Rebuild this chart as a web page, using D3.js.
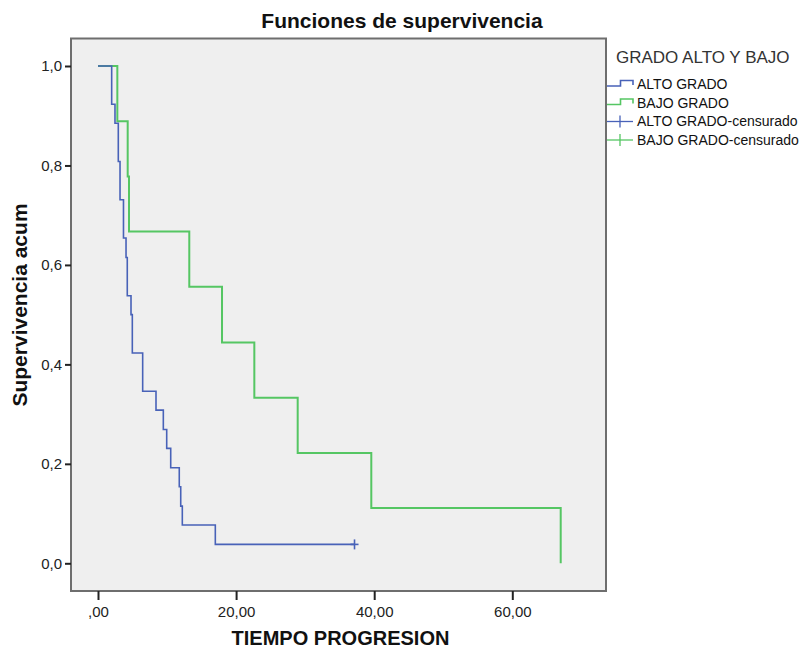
<!DOCTYPE html>
<html>
<head>
<meta charset="utf-8">
<script src="https://cdn.jsdelivr.net/npm/d3@7"></script>
<style>
  html, body { margin: 0; padding: 0; background: #ffffff; }
  svg { display: block; font-family: "Liberation Sans", Arial, sans-serif; }
</style>
</head>
<body>
<svg id="chart" width="804" height="651"></svg>
<script>
// ---- Data ----
const seriesNames = ["ALTO GRADO", "BAJO GRADO"];
const censoredNames = ["ALTO GRADO-censurado", "BAJO GRADO-censurado"];

const altoTimes    = [0, 1.98, 2.46, 2.94, 3.19, 3.69, 4.06, 4.24, 4.78, 4.97, 6.47, 8.40, 9.46, 9.95, 10.53, 11.77, 11.98, 12.21, 16.99];
const altoSurvival = [1, 0.923, 0.885, 0.808, 0.731, 0.654, 0.615, 0.538, 0.500, 0.423, 0.346, 0.308, 0.269, 0.231, 0.192, 0.154, 0.115, 0.077, 0.038];
const altoCensorTimes = [37.15];
const altoCensorSurv  = [0.038];

const bajoTimes    = [0, 2.80, 4.30, 4.49, 13.22, 17.96, 22.64, 28.92, 39.58, 67.01];
const bajoSurvival = [1, 0.889, 0.778, 0.667, 0.556, 0.444, 0.333, 0.222, 0.111, 0];

const xTickValues = [0, 20, 40, 60];
const xTickLabels = [",00", "20,00", "40,00", "60,00"];
const yTickValues = [0, 0.2, 0.4, 0.6, 0.8, 1.0];
const yTickLabels = ["0,0", "0,2", "0,4", "0,6", "0,8", "1,0"];

const chartTitle = "Funciones de supervivencia";
const xTitle = "TIEMPO PROGRESION";
const yTitle = "Supervivencia acum";
const legendTitle = "GRADO ALTO Y BAJO";

// ---- Layout ----
const frame = { left: 71, right: 606, top: 38.5, bottom: 591 };
const colors = { alto: "#4862b8", bajo: "#55c663" };

const svg = d3.select("#chart");

const x = d3.scaleLinear().domain([-3.91, 73.57]).range([frame.left, frame.right]);
const y = d3.scaleLinear().domain([-0.0557, 1.0553]).range([frame.bottom, frame.top]);

// plot background
svg.append("rect")
  .attr("x", frame.left).attr("y", frame.top)
  .attr("width", frame.right - frame.left).attr("height", frame.bottom - frame.top)
  .attr("fill", "#efefef");

// curves
const line = d3.line().x(d => x(d[0])).y(d => y(d[1])).curve(d3.curveStepAfter);

const altoPts = altoTimes.map((t, i) => [t, altoSurvival[i]]);
altoPts.push([altoCensorTimes[altoCensorTimes.length - 1], altoSurvival[altoSurvival.length - 1]]);
const bajoPts = bajoTimes.map((t, i) => [t, bajoSurvival[i]]);

const g = svg.append("g");
g.append("path").datum(bajoPts).attr("d", line)
  .attr("fill", "none").attr("stroke", colors.bajo).attr("stroke-width", 2);
g.append("path").datum(altoPts).attr("d", line)
  .attr("fill", "none").attr("stroke", colors.alto).attr("stroke-width", 1.6);

// censored marks (plus signs)
altoCensorTimes.forEach((t, i) => {
  const cx = x(t), cy = y(altoCensorSurv[i]);
  g.append("line").attr("x1", cx).attr("x2", cx).attr("y1", cy - 5).attr("y2", cy + 5)
    .attr("stroke", colors.alto).attr("stroke-width", 1.6);
  g.append("line").attr("x1", cx - 4).attr("x2", cx + 4).attr("y1", cy).attr("y2", cy)
    .attr("stroke", colors.alto).attr("stroke-width", 1.6);
});

// frame
svg.append("rect")
  .attr("x", frame.left).attr("y", frame.top)
  .attr("width", frame.right - frame.left).attr("height", frame.bottom - frame.top)
  .attr("fill", "none").attr("stroke", "#6e6e6e").attr("stroke-width", 2);

// axes
const xAxis = d3.axisBottom(x).tickValues(xTickValues)
  .tickFormat((d, i) => xTickLabels[i]).tickSize(9).tickSizeOuter(0);
const xg = svg.append("g").attr("transform", `translate(0,${frame.bottom})`).call(xAxis);
xg.select(".domain").remove();
xg.selectAll(".tick line").attr("stroke", "#222").attr("stroke-width", 2);
xg.selectAll(".tick text").attr("font-size", 15).attr("fill", "#222").attr("dy", "0.95em")
  .attr("font-family", "Liberation Sans, Arial, sans-serif");

const yAxis = d3.axisLeft(y).tickValues(yTickValues)
  .tickFormat((d, i) => yTickLabels[i]).tickSize(6).tickSizeOuter(0).tickPadding(3);
const yg = svg.append("g").attr("transform", `translate(${frame.left},0)`).call(yAxis);
yg.select(".domain").remove();
yg.selectAll(".tick line").attr("stroke", "#222").attr("stroke-width", 2);
yg.selectAll(".tick text").attr("font-size", 15).attr("fill", "#222")
  .attr("font-family", "Liberation Sans, Arial, sans-serif");

// titles
svg.append("text").attr("x", 402).attr("y", 28).attr("text-anchor", "middle")
  .attr("font-size", 21).attr("font-weight", "bold").attr("fill", "#111").text(chartTitle);
svg.append("text").attr("x", 340.5).attr("y", 645).attr("text-anchor", "middle")
  .attr("font-size", 20).attr("font-weight", "bold").attr("fill", "#111").text(xTitle);
svg.append("text").attr("transform", `translate(27,305) rotate(-90)`).attr("text-anchor", "middle")
  .attr("font-size", 21).attr("font-weight", "bold").attr("fill", "#111").text(yTitle);

// legend
const lg = svg.append("g");
lg.append("text").attr("x", 616).attr("y", 63).attr("font-size", 17).attr("fill", "#333").text(legendTitle);

const legendItems = [
  { name: seriesNames[0], color: colors.alto, type: "step", cy: 84.5 },
  { name: seriesNames[1], color: colors.bajo, type: "step", cy: 103 },
  { name: censoredNames[0], color: colors.alto, type: "plus", cy: 121.5 },
  { name: censoredNames[1], color: colors.bajo, type: "plus", cy: 140 }
];
legendItems.forEach(it => {
  if (it.type === "step") {
    lg.append("path")
      .attr("d", `M607,${it.cy + 1.5} H620.5 V${it.cy - 4} H633 V${it.cy + 0.5}`)
      .attr("fill", "none").attr("stroke", it.color).attr("stroke-width", 1.6);
  } else {
    lg.append("line").attr("x1", 607).attr("x2", 633).attr("y1", it.cy).attr("y2", it.cy)
      .attr("stroke", it.color).attr("stroke-width", 1.3);
    lg.append("line").attr("x1", 620).attr("x2", 620).attr("y1", it.cy - 6).attr("y2", it.cy + 6)
      .attr("stroke", it.color).attr("stroke-width", 1.3);
  }
  lg.append("text").attr("x", 637).attr("y", it.cy).attr("dy", "0.35em")
    .attr("font-size", 14).attr("fill", "#111").text(it.name);
});
</script>
</body>
</html>
